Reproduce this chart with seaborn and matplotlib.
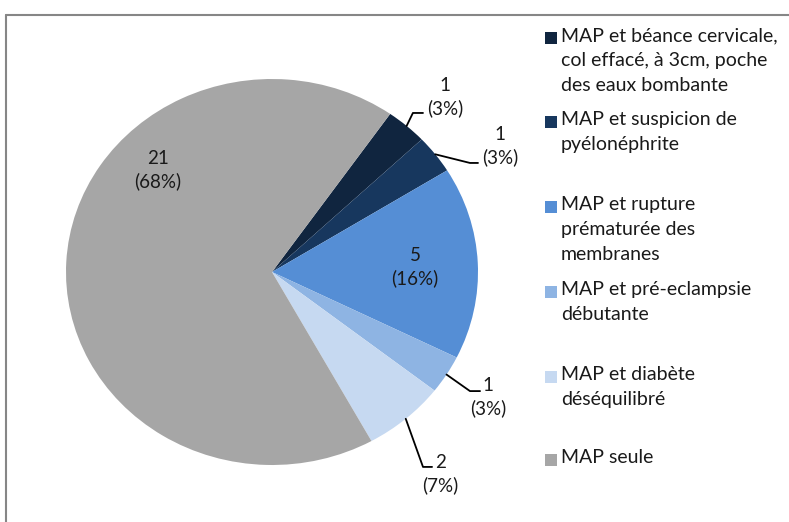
import numpy as np
import matplotlib
matplotlib.use('Agg')
import matplotlib.pyplot as plt
import seaborn as sns
from matplotlib.lines import Line2D
from matplotlib.patches import Rectangle

sns.set_theme(style='white')
plt.rcParams['font.family'] = ['Lato', 'DejaVu Sans']

# data
categories = [
    'MAP et béance cervicale,\ncol effacé, à 3cm, poche\ndes eaux bombante',
    'MAP et suspicion de\npyélonéphrite',
    'MAP et rupture\nprématurée des\nmembranes',
    'MAP et pré-eclampsie\ndébutante',
    'MAP et diabète\ndéséquilibré',
    'MAP seule',
]
counts = [1, 1, 5, 1, 2, 21]
pct_labels = [3, 3, 16, 3, 7, 68]
colors = ['#10253F', '#17375E', '#558ED5', '#8EB4E3', '#C6D9F1', '#A6A6A6']

# label layout (normalised pie units)
label_pos = [(0.84, 0.907), (1.107, 0.653), (0.694, 0.026), (1.05, -0.648), (0.816, -1.047), (-0.553, 0.528)]
leader_pts = [
    [(0.684, 0.824), (0.733, 0.824)],
    [(0.961, 0.565), (1.0, 0.565)],
    None,
    [(0.961, -0.617), (1.01, -0.617)],
    [(0.733, -1.01), (0.777, -1.01)],
    None,
]
legend_tops = [38, 122, 207, 292, 377, 460]  # px, first line centre

W, H = 789, 522
fig = plt.figure(figsize=(W / 100, H / 100), dpi=100)
fig.patch.set_facecolor('white')

cx, cy, rx, ry = 272, 272, 206, 193
ax = fig.add_axes([(cx - rx) / W, (H - cy - ry) / H, 2 * rx / W, 2 * ry / H])
wedges, _ = ax.pie(counts, colors=colors, startangle=55, counterclock=False,
                   radius=1.0, wedgeprops=dict(linewidth=0))
ax.set_xlim(-1, 1)
ax.set_ylim(-1, 1)
ax.set_aspect('auto')
ax.axis('off')

for i, (w, n) in enumerate(zip(wedges, counts)):
    lx, ly = label_pos[i]
    ax.text(lx, ly, f'{n}\n({pct_labels[i]}%)', ha='center', va='center', fontsize=13.5,
            color='#1a1a1a', linespacing=1.4, clip_on=False)
    if leader_pts[i] is not None:
        mid = np.deg2rad((w.theta1 + w.theta2) / 2)
        sx, sy = np.cos(mid), np.sin(mid)
        xs = [sx] + [p[0] for p in leader_pts[i]]
        ys = [sy] + [p[1] for p in leader_pts[i]]
        ax.plot(xs, ys, color='black', lw=1.3, clip_on=False)

# legend drawn by hand
for i, (lab, col) in enumerate(zip(categories, colors)):
    ty = legend_tops[i]
    fig.patches.append(Rectangle((545 / W, (H - ty - 6) / H), 12 / W, 12 / H,
                                 transform=fig.transFigure, facecolor=col, edgecolor='none'))
    fig.text(561 / W, (H - ty + 11) / H, lab, ha='left', va='top', fontsize=14,
             color='#1a1a1a', linespacing=1.58)

# chart border (top and left)
fig.add_artist(Line2D([6 / W, 1], [1 - 15 / H, 1 - 15 / H], transform=fig.transFigure,
                      color='#868686', lw=1.5))
fig.add_artist(Line2D([6 / W, 6 / W], [0, 1 - 15 / H], transform=fig.transFigure,
                      color='#868686', lw=1.5))

fig.savefig('out.png', dpi=100)
